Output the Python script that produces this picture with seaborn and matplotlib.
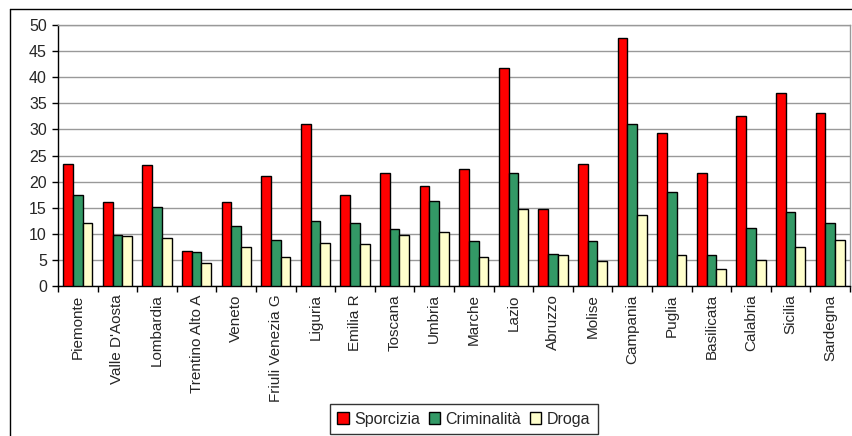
import matplotlib
matplotlib.use("Agg")
import matplotlib.pyplot as plt
from matplotlib.lines import Line2D
from matplotlib.patches import Patch
import seaborn as sns
import pandas as pd

regioni = ["Piemonte", "Valle D'Aosta", "Lombardia", "Trentino Alto A", "Veneto",
           "Friuli Venezia G", "Liguria", "Emilia R", "Toscana", "Umbria",
           "Marche", "Lazio", "Abruzzo", "Molise", "Campania",
           "Puglia", "Basilicata", "Calabria", "Sicilia", "Sardegna"]
sporcizia = [23.4, 16.0, 23.1, 6.8, 16.0, 21.0, 31.1, 17.4, 21.6, 19.2,
             22.5, 41.7, 14.8, 23.4, 47.6, 29.3, 21.6, 32.6, 37.0, 33.1]
criminalita = [17.4, 9.8, 15.1, 6.5, 11.5, 8.9, 12.5, 12.1, 11.0, 16.3,
               8.6, 21.6, 6.2, 8.6, 31.0, 18.1, 5.9, 11.2, 14.2, 12.1]
droga = [12.1, 9.5, 9.2, 4.4, 7.4, 5.6, 8.3, 8.0, 9.8, 10.4,
         5.6, 14.8, 5.9, 4.7, 13.6, 5.9, 3.3, 5.0, 7.4, 8.9]
serie = ["Sporcizia", "Criminalità", "Droga"]
colori = ["#FF0000", "#339966", "#FFFFCC"]

df = pd.DataFrame({
    "regione": regioni * 3,
    "serie": [serie[0]] * len(regioni) + [serie[1]] * len(regioni) + [serie[2]] * len(regioni),
    "valore": sporcizia + criminalita + droga,
})

sns.set_theme(style="white")
plt.rcParams["font.family"] = ["Liberation Sans", "DejaVu Sans"]

fig = plt.figure(figsize=(8.53, 4.36), dpi=100)
W, H = 853, 436
ax = fig.add_axes([58 / W, (H - 286) / H, (850 - 58) / W, (286 - 25) / H])

sns.barplot(data=df, x="regione", y="valore", hue="serie", order=regioni,
            hue_order=serie, palette=colori, width=0.74, gap=0,
            edgecolor="black", linewidth=1.0, saturation=1, ax=ax,
            legend=False, zorder=3)

ax.set_ylim(0, 50)
ax.set_xlim(-0.5, len(regioni) - 0.5)
ax.set_yticks(range(0, 51, 5))
ax.set_yticklabels([str(v) for v in range(0, 51, 5)], fontsize=11.5)
ax.yaxis.grid(True, color="#999999", linewidth=1.0, zorder=0)
ax.set_axisbelow(True)

# category labels centred on groups, tick marks between groups
ax.set_xticks(range(len(regioni)))
ax.set_xticklabels(regioni, rotation=90, fontsize=11)
ax.tick_params(axis="x", length=0, pad=6)
ax.tick_params(axis="y", length=4, width=1, color="black", direction="out", left=True, pad=4)
ax.set_xticks([i + 0.5 for i in range(-1, len(regioni))], minor=True)
ax.tick_params(axis="x", which="minor", length=4, width=1, color="black", direction="out", bottom=True)
ax.set_xlabel("")
ax.set_ylabel("")

for side in ["left", "bottom"]:
    ax.spines[side].set_color("black")
    ax.spines[side].set_linewidth(1.0)
for side in ["top", "right"]:
    ax.spines[side].set_color("#999999")
    ax.spines[side].set_linewidth(1.0)

# outer chart frame
fig.add_artist(Line2D([10 / W, 10 / W], [0, (H - 9.5) / H], color="black", linewidth=1.0,
                      transform=fig.transFigure))
fig.add_artist(Line2D([10 / W, 1], [(H - 9.5) / H, (H - 9.5) / H], color="black", linewidth=1.0,
                      transform=fig.transFigure))

handles = [Patch(facecolor=c, edgecolor="black", linewidth=1.0, label=s) for s, c in zip(serie, colori)]
leg = fig.legend(handles=handles, loc="center", bbox_to_anchor=(464 / W, (H - 419) / H),
                 ncol=3, frameon=True, fancybox=False, fontsize=11.5,
                 handlelength=0.7, handleheight=0.7, handletextpad=0.35,
                 columnspacing=0.55, borderpad=0.5, borderaxespad=0)
leg.get_frame().set_edgecolor("black")
leg.get_frame().set_linewidth(1.0)

fig.savefig("out.png", dpi=100)
